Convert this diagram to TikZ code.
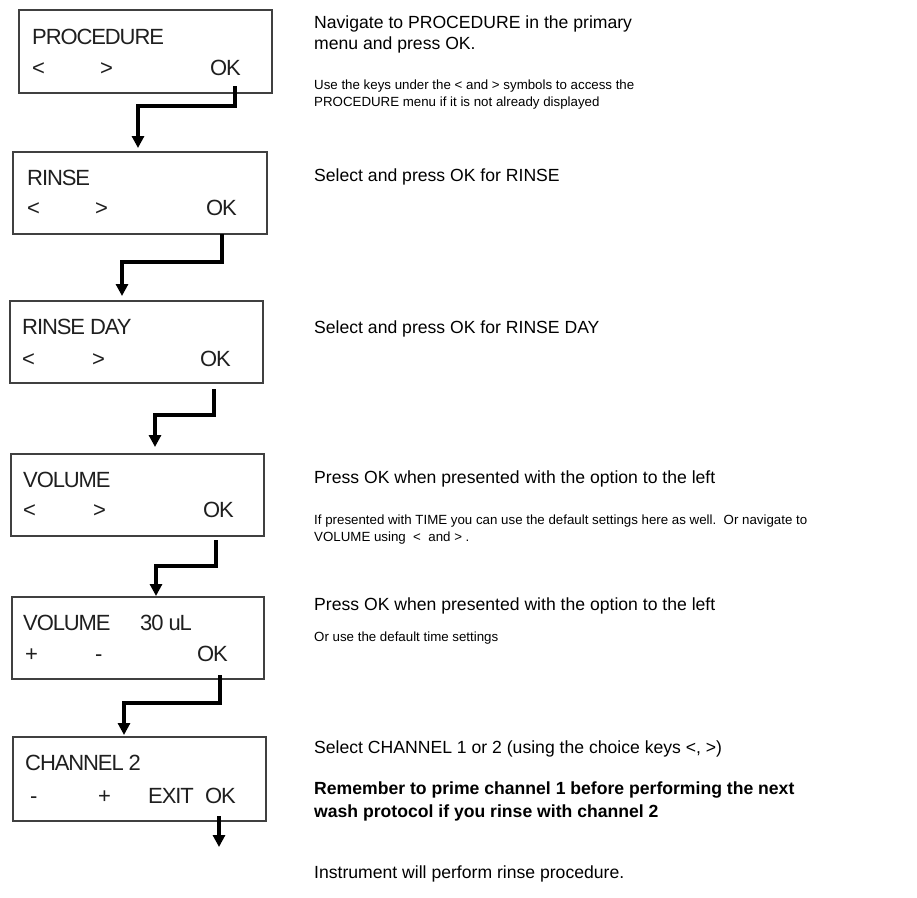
\documentclass[tikz,border=0pt]{standalone}
\usepackage{fontspec}
\setmainfont{Liberation Sans}
\newfontfamily\lcdfont[LetterSpace=-5]{Liberation Sans}
\usetikzlibrary{arrows.meta}
\begin{document}
\begin{tikzpicture}[x=1pt,y=-1pt,
  panel/.style={draw=black!75, line width=1.6pt, anchor=north west, inner sep=0pt, outer sep=0pt},
  lcd/.style={anchor=base west, inner sep=0pt, font=\lcdfont\fontsize{22}{26}\selectfont, text=black!88},
  big/.style={anchor=base west, inner sep=0pt, font=\fontsize{17.6}{21}\selectfont},
  bigb/.style={anchor=base west, inner sep=0pt, font=\fontsize{17.6}{21}\selectfont\bfseries},
  small/.style={anchor=base west, inner sep=0pt, font=\fontsize{13.3}{17}\selectfont},
  flow/.style={line width=3.4pt, -{Triangle[length=12pt,width=12pt]}}
]
\useasboundingbox[fill=white] (0,0) rectangle (917,897);

% panels
\node[panel, minimum width=253pt, minimum height=83pt] (b1) at (19,10) {};
\node[panel, minimum width=254pt, minimum height=82pt] (b2) at (13,152) {};
\node[panel, minimum width=253pt, minimum height=82pt] (b3) at (10,301) {};
\node[panel, minimum width=253pt, minimum height=82pt] (b4) at (11,454) {};
\node[panel, minimum width=252pt, minimum height=82pt] (b5) at (12,597) {};
\node[panel, minimum width=253pt, minimum height=84pt] (b6) at (13,737) {};

% panel texts
\node[lcd] (t1a) at (32,44) {PROCEDURE};
\node[lcd] (t1b) at (32,75) {<};
\node[lcd] (t1c) at (100,75) {>};
\node[lcd] (t1d) at (210,75) {OK};

\node[lcd] (t2a) at (27,185) {RINSE};
\node[lcd] (t2b) at (27,215) {<};
\node[lcd] (t2c) at (95,215) {>};
\node[lcd] (t2d) at (206,215) {OK};

\node[lcd] (t3a) at (22,334) {RINSE DAY};
\node[lcd] (t3b) at (22,366) {<};
\node[lcd] (t3c) at (92,366) {>};
\node[lcd] (t3d) at (200,366) {OK};

\node[lcd] (t4a) at (23,487) {VOLUME};
\node[lcd] (t4b) at (23,517) {<};
\node[lcd] (t4c) at (93,517) {>};
\node[lcd] (t4d) at (203,517) {OK};

\node[lcd] (t5a) at (23,630) {VOLUME};
\node[lcd] (t5e) at (140,630) {30 uL};
\node[lcd] (t5b) at (25,661) {+};
\node[lcd] (t5c) at (95,661) {-};
\node[lcd] (t5d) at (197,661) {OK};

\node[lcd] (t6a) at (25,770) {CHANNEL 2};
\node[lcd] (t6b) at (30,803) {-};
\node[lcd] (t6c) at (98,803) {+};
\node[lcd] (t6e) at (148,803) {EXIT};
\node[lcd] (t6d) at (205,803) {OK};

% connectors
\draw[flow] ([xshift=216pt,yshift=7pt]b1.south west) -- ++(0,20) -| ([xshift=125pt,yshift=4pt]b2.north west);
\draw[flow] ([xshift=209pt]b2.south west) -- ++(0,28) -| ([xshift=112pt,yshift=5pt]b3.north west);
\draw[flow] ([xshift=204pt,yshift=-6pt]b3.south west) -- ++(0,26) -| ([xshift=144pt,yshift=7pt]b4.north west);
\draw[flow] ([xshift=205pt,yshift=-4pt]b4.south west) -- ++(0,26) -| ([xshift=144pt,yshift=1pt]b5.north west);
\draw[flow] ([xshift=208pt,yshift=4pt]b5.south west) -- ++(0,28) -| ([xshift=111pt,yshift=2pt]b6.north west);
\coordinate (end6) at (219,847);
\draw[flow] ([xshift=206pt,yshift=5pt]b6.south west) -- (end6);

% descriptions
\node[big] (d1a) at (314,28) {Navigate to PROCEDURE in the primary};
\node[big] (d1b) at (314,49) {menu and press OK.};
\node[small] (d1c) at (314,89) {Use the keys under the < and > symbols to access the};
\node[small] (d1d) at (314,106) {PROCEDURE menu if it is not already displayed};

\node[big] (d2) at (314,181) {Select and press OK for RINSE};
\node[big] (d3) at (314,333) {Select and press OK for RINSE DAY};

\node[big] (d4a) at (314,483) {Press OK when presented with the option to the left};
\node[small] (d4b) at (314,524) {If presented with TIME you can use the default settings here as well.\ \ Or navigate to};
\node[small] (d4c) at (314,541) {VOLUME using \ < \ and > .};

\node[big] (d5a) at (314,610) {Press OK when presented with the option to the left};
\node[small] (d5b) at (314,641) {Or use the default time settings};

\node[big] (d6a) at (314,753) {Select CHANNEL 1 or 2 (using the choice keys <, >)};
\node[bigb] (d6b) at (314,794) {Remember to prime channel 1 before performing the next};
\node[bigb] (d6c) at (314,817) {wash protocol if you rinse with channel 2};

\node[big] (d7) at (314,878) {Instrument will perform rinse procedure.};
\end{tikzpicture}
\end{document}
